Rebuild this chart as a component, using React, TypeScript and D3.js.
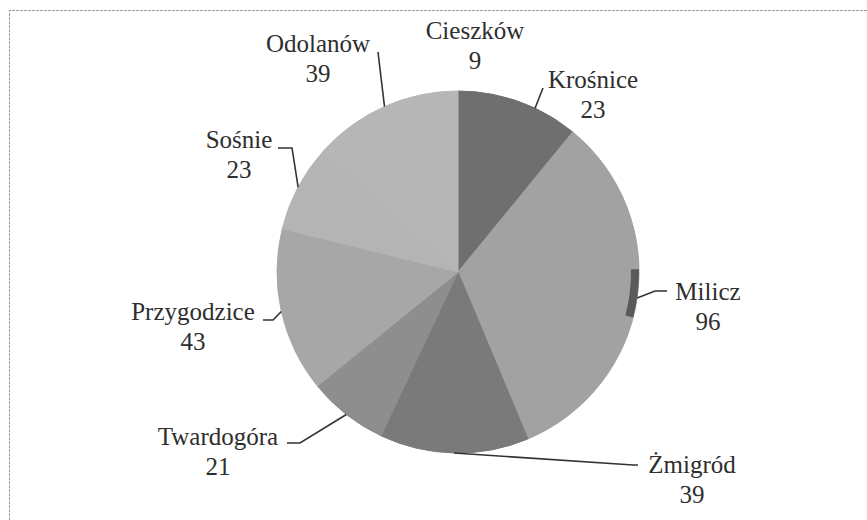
import * as d3 from "d3";
import React from "react";

const width = 867;
const height = 520;

// data
const towns = ["Cieszków", "Krośnice", "Milicz", "Żmigród", "Twardogóra", "Przygodzice", "Sośnie", "Odolanów"];
const counts = [9, 23, 96, 39, 21, 43, 23, 39];
const fills = ["#6f6f6f", "#6f6f6f", "#a2a2a2", "#7a7a7a", "#8e8e8e", "#a7a7a7", "#b4b4b4", "#b6b6b6"];

// label layout: text centre, first baseline, leader elbow and end (null = no leader)
const labelPos: [number, number][] = [
  [475, 39], [593, 88], [708, 300], [692, 473], [218, 445], [193, 320], [239, 148], [318, 52],
];
const leaderPts: ([number, number][] | null)[] = [
  null,
  [[543, 88]],
  [[655, 291], [667, 291]],
  [[633, 465], [638, 465]],
  [[300, 443], [287, 443]],
  [[273, 320], [263, 320]],
  [[292, 148], [278, 148]],
  [[378, 52]],
];

function PieChart() {
  const cx = 458;
  const cy = 272;
  const r = 181;

  const pie = d3.pie<number>().sort(null).value((d) => d);
  const arcs = pie(counts);
  const arc = d3.arc<d3.PieArcDatum<number>>().innerRadius(0).outerRadius(r);

  // dark smudge on the Milicz rim
  const milicz = arcs[2];
  const mid = (milicz.startAngle + milicz.endAngle) / 2;
  const smudge = d3.arc()({ innerRadius: r - 8, outerRadius: r, startAngle: mid - 0.16, endAngle: mid + 0.11 } as any);

  const leaders = arcs.map((d, i) => {
    const pts = leaderPts[i];
    if (!pts) return null;
    const a = (d.startAngle + d.endAngle) / 2;
    const start: [number, number] = [cx + Math.sin(a) * r, cy - Math.cos(a) * r];
    return d3.line()([start, ...pts]);
  });

  return (
    <svg width={width} height={height} style={{ position: "absolute", left: 0, top: 0, background: "#fff" }}>
      {/* frame of the scanned page */}
      <path d={`M9.5,${height} V10.5 H${width}`} fill="none" stroke="#9a9a9a" strokeDasharray="3,1" />
      <g transform={`translate(${cx},${cy})`}>
        {arcs.map((d, i) => (
          <path key={i} d={arc(d) || ""} fill={fills[i]} stroke={fills[i]} strokeWidth={1} />
        ))}
        <path d={smudge || ""} fill="#5a5a5a" />
      </g>
      {leaders.map((p, i) =>
        p ? <path key={i} d={p} fill="none" stroke="#333" strokeWidth={1.6} /> : null
      )}
      {towns.map((t, i) => (
        <g key={t}>
          <text
            x={labelPos[i][0]}
            y={labelPos[i][1]}
            textAnchor="middle"
            fill="#2e2e2e"
            style={{ font: "25px Tinos, 'Liberation Serif', FreeSerif, serif" }}
          >
            {t}
          </text>
          <text
            x={labelPos[i][0]}
            y={labelPos[i][1] + 30}
            textAnchor="middle"
            fill="#2e2e2e"
            style={{ font: "25px Tinos, 'Liberation Serif', FreeSerif, serif" }}
          >
            {counts[i]}
          </text>
        </g>
      ))}
    </svg>
  );
}

export default function App() {
  return <PieChart />;
}
